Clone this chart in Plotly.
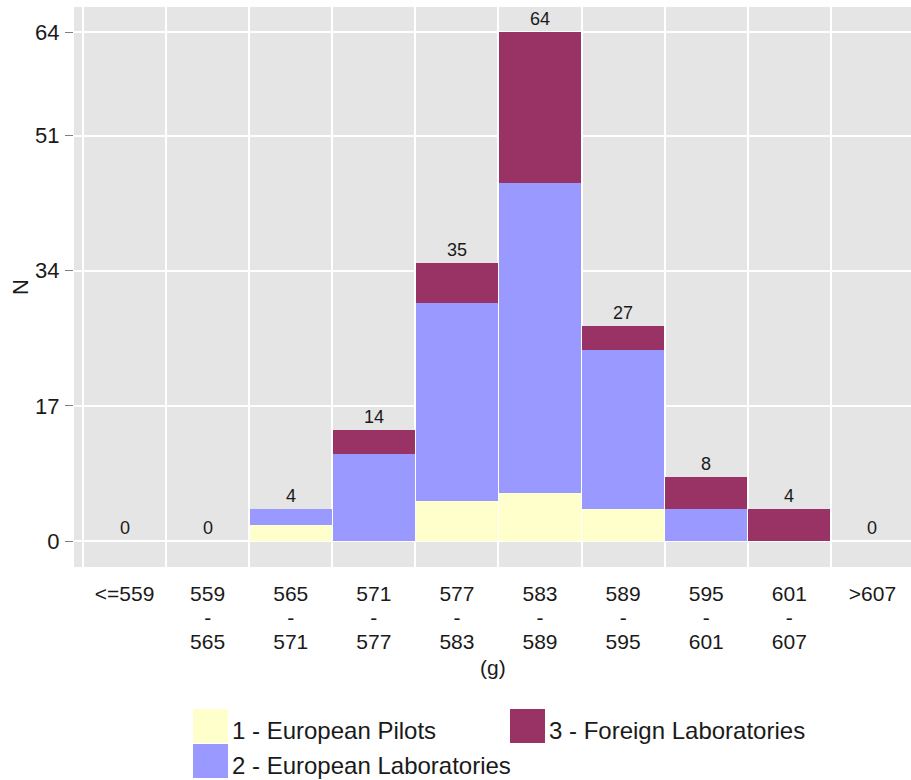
import plotly.graph_objects as go

# Weight classes (g) and counts per group
bins = ["<=559", "559-565", "565-571", "571-577", "577-583",
        "583-589", "589-595", "595-601", "601-607", ">607"]
tick_lines = [["<=559"], ["559", "-", "565"], ["565", "-", "571"], ["571", "-", "577"],
              ["577", "-", "583"], ["583", "-", "589"], ["589", "-", "595"],
              ["595", "-", "601"], ["601", "-", "607"], [">607"]]
european_pilots = [0, 0, 2, 0, 5, 6, 4, 0, 0, 0]
european_labs = [0, 0, 2, 11, 25, 39, 20, 4, 0, 0]
foreign_labs = [0, 0, 0, 3, 5, 19, 3, 4, 4, 0]
y_ticks = [0, 17, 34, 51, 64]

series_names = ["1 - European Pilots", "2 - European Laboratories", "3 - Foreign Laboratories"]
series_values = [european_pilots, european_labs, foreign_labs]
series_colors = ["#FFFFCC", "#9999FF", "#993366"]

FONT = "Liberation Sans, Arial, sans-serif"
TXT = "#1a1a1a"

W, H = 911, 780
ML, MR, MT, MB = 74, 0, 7, 213
PW, PH = W - ML - MR, H - MT - MB

x = list(range(len(bins)))
totals = [a + b + c for a, b, c in zip(european_pilots, european_labs, foreign_labs)]

# Multi-line tick text: a smaller base size keeps the lines close together,
# while each line is drawn at the full label size
tick_text = ["<br>".join("<span style='font-size:21px'>%s</span>" % s for s in lines)
             for lines in tick_lines]

fig = go.Figure()
for name, vals, col in zip(series_names, series_values, series_colors):
    fig.add_trace(go.Bar(
        x=x, y=vals, name=name, width=0.985,
        marker=dict(color=col, line=dict(width=0)),
        showlegend=False, hoverinfo="x+y+name",
    ))

# Count labels above each stack
annotations = []
for xi, t in zip(x, totals):
    annotations.append(dict(
        x=xi, y=t, xref="x", yref="y", text=str(t), showarrow=False,
        yanchor="middle", yshift=13, font=dict(family=FONT, size=18, color=TXT),
    ))

# Axis titles
annotations.append(dict(
    x=-54 / PW, y=0.5, xref="paper", yref="paper", text="N", textangle=-90,
    showarrow=False, xanchor="center", yanchor="middle",
    font=dict(family=FONT, size=22, color=TXT),
))
annotations.append(dict(
    x=0.5, y=-(667 - (MT + PH)) / PH, xref="paper", yref="paper", text="(g)",
    showarrow=False, xanchor="center", yanchor="middle",
    font=dict(family=FONT, size=21, color=TXT),
))


def px_x(p):
    return (p - ML) / PW


def px_y(p):
    return (MT + PH - p) / PH


# Legend drawn as large colour keys with labels, two columns
shapes = []
legend_slots = [(193, 709), (193, 744), (510, 709)]
key_w, key_h = 35, 34
for (lx, ly), name, col in zip(legend_slots, series_names, series_colors):
    shapes.append(dict(
        type="rect", xref="paper", yref="paper",
        x0=px_x(lx), x1=px_x(lx + key_w), y0=px_y(ly), y1=px_y(ly + key_h),
        fillcolor=col, line=dict(width=0), layer="above",
    ))
    annotations.append(dict(
        x=px_x(lx + key_w + 2), y=px_y(ly + key_h / 2 + 4), xref="paper", yref="paper",
        text=name, showarrow=False, xanchor="left", yanchor="middle",
        font=dict(family=FONT, size=24, color=TXT),
    ))

fig.update_layout(
    width=W, height=H,
    margin=dict(l=ML, r=MR, t=MT, b=MB, pad=0),
    barmode="stack",
    paper_bgcolor="white",
    plot_bgcolor="#E5E5E5",
    annotations=annotations,
    shapes=shapes,
    showlegend=False,
    xaxis=dict(
        range=[-0.608, 9.464],
        tickmode="array", tickvals=x, ticktext=tick_text,
        showgrid=False, zeroline=False, ticks="",
        ticklabelstandoff=14,
        tickfont=dict(family=FONT, size=18.5, color=TXT),
        minor=dict(tickmode="array", tickvals=[i - 0.5 for i in range(len(bins) + 1)],
                   showgrid=True, gridcolor="white", gridwidth=1.5, ticks=""),
        fixedrange=True,
    ),
    yaxis=dict(
        range=[-3.27, 67.18],
        tickmode="array", tickvals=y_ticks,
        showgrid=True, gridcolor="white", gridwidth=1.5, zeroline=False,
        ticks="outside", ticklen=8, tickwidth=1, tickcolor="#7f7f7f",
        ticklabelstandoff=1,
        tickfont=dict(family=FONT, size=22, color=TXT),
        fixedrange=True,
    ),
)

fig.write_html("out.html")
